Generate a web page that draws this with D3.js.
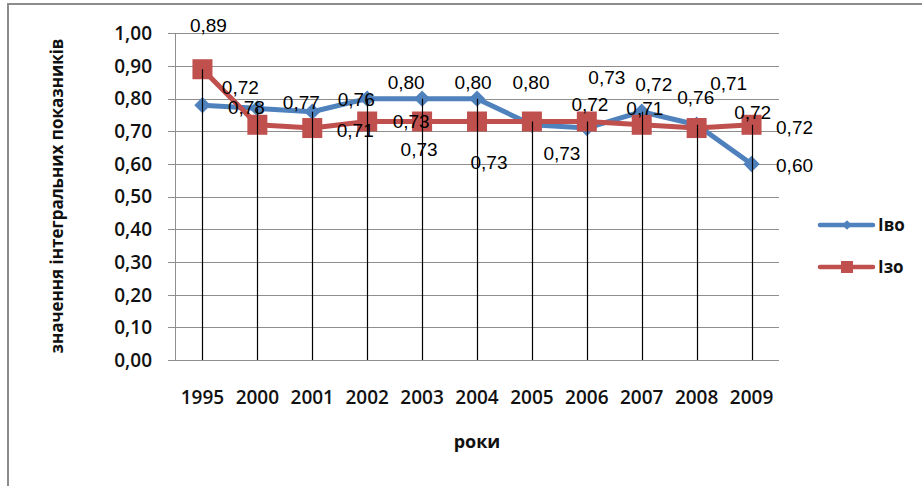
<!DOCTYPE html>
<html>
<head>
<meta charset="utf-8">
<script src="https://cdn.jsdelivr.net/npm/d3@7"></script>
<style>
  html, body { margin: 0; padding: 0; background: #fff; }
  svg { display: block; }
</style>
</head>
<body>
<div id="chart"></div>
<script>
// дані
const years = ["1995", "2000", "2001", "2002", "2003", "2004", "2005", "2006", "2007", "2008", "2009"];
const ivo = [0.78, 0.77, 0.76, 0.80, 0.80, 0.80, 0.72, 0.71, 0.76, 0.72, 0.60];
const izo = [0.89, 0.72, 0.71, 0.73, 0.73, 0.73, 0.73, 0.73, 0.72, 0.71, 0.72];
const yTicks = [0, 0.1, 0.2, 0.3, 0.4, 0.5, 0.6, 0.7, 0.8, 0.9, 1.0];

// ручне розміщення підписів даних (зсув від точки, px)
const ivoLabelShift = [[44, 2], [44, -6], [44, -13], [39, -16], [51, -16], [54, -16], [58, -21], [58, -20], [54, -15], [56, -13], [43, 1]];
const izoLabelShift = [[6, -44], [-17, -38], [43, 2], [44, 0], [-3, 28], [12, 41], [30, 32], [20, -44], [12, -41], [32, -45], [43, 2]];

const width = 922, height = 486;
const plotL = 175, plotR = 779, plotT = 33.3, plotB = 360;
const blue = '#4F81BD', red = '#C0504D';
const fmt = (v) => d3.format('.2f')(v).replace('.', ',');
const boldFont = '"Open Sans", "Noto Sans", sans-serif';

const svg = d3.select('#chart').append('svg')
    .attr('width', width)
    .attr('height', height);

// рамка
svg.append('rect')
    .attr('x', 8).attr('y', 4)
    .attr('width', 960).attr('height', 520)
    .attr('fill', '#fff')
    .attr('stroke', '#8c8c8c')
    .attr('stroke-width', 2);

const x = d3.scaleBand().domain(years).range([plotL, plotR]).padding(0);
const cx = (d) => x(d) + x.bandwidth() / 2;
const y = d3.scaleLinear().domain([0, 1]).range([plotB, plotT]);

// сітка
svg.append('g')
    .selectAll('line')
    .data(yTicks)
    .enter()
    .append('line')
    .attr('x1', plotL - 7).attr('x2', plotR)
    .attr('y1', (d) => Math.round(y(d)) + 0.5)
    .attr('y2', (d) => Math.round(y(d)) + 0.5)
    .attr('stroke', '#8e8e8e')
    .attr('stroke-width', 1);

// вісь y
svg.append('line')
    .attr('x1', plotL + 0.5).attr('x2', plotL + 0.5)
    .attr('y1', plotT).attr('y2', plotB)
    .attr('stroke', '#8e8e8e');

svg.append('g')
    .selectAll('text')
    .data(yTicks)
    .enter()
    .append('text')
    .attr('x', 152)
    .attr('y', (d) => y(d))
    .attr('dy', '0.36em')
    .attr('text-anchor', 'end')
    .style('font-family', boldFont)
    .style('font-weight', 600)
    .style('font-size', '19px')
    .attr('fill', '#111')
    .text(fmt);

// підписи років
svg.append('g')
    .selectAll('text')
    .data(years)
    .enter()
    .append('text')
    .attr('x', cx)
    .attr('y', 397)
    .attr('dy', '0.36em')
    .attr('text-anchor', 'middle')
    .style('font-family', boldFont)
    .style('font-weight', 600)
    .style('font-size', '19px')
    .attr('fill', '#111')
    .text((d) => d);

// назви осей
svg.append('text')
    .attr('x', 477).attr('y', 448)
    .attr('text-anchor', 'middle')
    .style('font-family', boldFont)
    .style('font-weight', 700)
    .style('font-size', '18px')
    .attr('fill', '#111')
    .text('роки');

svg.append('text')
    .attr('transform', 'translate(63, 196) rotate(-90)')
    .attr('text-anchor', 'middle')
    .style('font-family', boldFont)
    .style('font-weight', 700)
    .style('font-size', '17px')
    .attr('fill', '#111')
    .text('значення інтегральних показників');

// лінії рядів
const line = d3.line()
    .x((d, i) => cx(years[i]))
    .y((d) => y(d));

const diamond = d3.symbol().type(d3.symbolDiamond2).size(170);

svg.append('path')
    .datum(ivo)
    .attr('d', line)
    .attr('fill', 'none')
    .attr('stroke', blue)
    .attr('stroke-width', 5)
    .attr('stroke-linejoin', 'round');

svg.append('g')
    .selectAll('path')
    .data(ivo)
    .enter()
    .append('path')
    .attr('d', diamond)
    .attr('transform', (d, i) => `translate(${cx(years[i])}, ${y(d)})`)
    .attr('fill', blue);

svg.append('path')
    .datum(izo)
    .attr('d', line)
    .attr('fill', 'none')
    .attr('stroke', red)
    .attr('stroke-width', 5)
    .attr('stroke-linejoin', 'round');

svg.append('g')
    .selectAll('rect')
    .data(izo)
    .enter()
    .append('rect')
    .attr('x', (d, i) => cx(years[i]) - 10)
    .attr('y', (d) => y(d) - 10)
    .attr('width', 20).attr('height', 20)
    .attr('fill', red);

// лінії проекції
svg.append('g')
    .selectAll('line')
    .data(years)
    .enter()
    .append('line')
    .attr('x1', (d) => Math.round(cx(d)) + 0.5)
    .attr('x2', (d) => Math.round(cx(d)) + 0.5)
    .attr('y1', (d, i) => y(Math.max(ivo[i], izo[i])))
    .attr('y2', plotB)
    .attr('stroke', '#000')
    .attr('stroke-width', 1.2);

// підписи даних
const drawLabels = (values, shift) => {
    svg.append('g')
        .selectAll('text')
        .data(values)
        .enter()
        .append('text')
        .attr('x', (d, i) => cx(years[i]) + shift[i][0])
        .attr('y', (d, i) => y(d) + shift[i][1])
        .attr('dy', '0.36em')
        .attr('text-anchor', 'middle')
        .style('font-family', '"Liberation Sans", Arial, sans-serif')
        .style('font-size', '19px')
        .attr('fill', '#000')
        .text(fmt);
};
drawLabels(ivo, ivoLabelShift);
drawLabels(izo, izoLabelShift);

// легенда
const legend = svg.append('g');
const legendItems = [
    {name: 'Iво', color: blue, mark: 'diamond', y: 225},
    {name: 'Iзо', color: red, mark: 'square', y: 267}
];
legendItems.forEach((item) => {
    legend.append('line')
        .attr('x1', 820).attr('x2', 873)
        .attr('y1', item.y).attr('y2', item.y)
        .attr('stroke', item.color)
        .attr('stroke-width', 4.5)
        .attr('stroke-linecap', 'round');
    if (item.mark === 'diamond') {
        legend.append('path')
            .attr('d', d3.symbol().type(d3.symbolDiamond2).size(60))
            .attr('transform', `translate(847, ${item.y})`)
            .attr('fill', item.color);
    } else {
        legend.append('rect')
            .attr('x', 841).attr('y', item.y - 6)
            .attr('width', 12).attr('height', 12)
            .attr('fill', item.color);
    }
    legend.append('text')
        .attr('x', 878).attr('y', item.y)
        .attr('dy', '0.36em')
        .style('font-family', boldFont)
        .style('font-weight', 700)
        .style('font-size', '17px')
        .attr('fill', '#111')
        .text(item.name);
});
</script>
</body>
</html>
